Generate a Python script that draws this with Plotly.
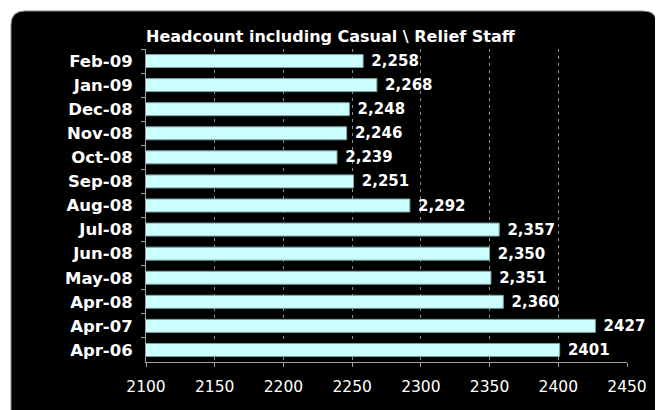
import plotly.graph_objects as go

# headcount per month, listed top to bottom as in the chart
months = ["Feb-09", "Jan-09", "Dec-08", "Nov-08", "Oct-08", "Sep-08", "Aug-08",
          "Jul-08", "Jun-08", "May-08", "Apr-08", "Apr-07", "Apr-06"]
headcount = [2258, 2268, 2248, 2246, 2239, 2251, 2292,
             2357, 2350, 2351, 2360, 2427, 2401]
value_labels = ["2,258", "2,268", "2,248", "2,246", "2,239", "2,251", "2,292",
                "2,357", "2,350", "2,351", "2,360", "2427", "2401"]
x_ticks = [2100, 2150, 2200, 2250, 2300, 2350, 2400, 2450]

# the page body has an 8px margin, so the figure is drawn 8px smaller
OFF = 8
FW, FH = 663 - OFF, 410 - OFF
L, R, T, B = 146 - OFF, 36, 49 - OFF, 48
PW, PH = FW - L - R, FH - T - B
FONT = "DejaVu Sans, Verdana, sans-serif"


def px(x):
    # page pixel -> paper coordinate
    return (x - OFF - L) / PW


def py(y):
    return (FH - B - (y - OFF)) / PH


# black rounded panel behind the chart
x0, x1, y0, y1, r = 11, 657, 11, 414, 14
frame = (f"M {px(x0)} {py(y1)} L {px(x0)} {py(y0 + r)} "
         f"Q {px(x0)} {py(y0)} {px(x0 + r)} {py(y0)} "
         f"L {px(x1 - r)} {py(y0)} "
         f"Q {px(x1)} {py(y0)} {px(x1)} {py(y0 + r)} "
         f"L {px(x1)} {py(y1)} Z")

fig = go.Figure()
fig.add_trace(go.Bar(
    y=months, x=headcount, orientation="h",
    marker=dict(color="#ccffff", line=dict(color="#7fa3a3", width=1)),
    text=value_labels, texttemplate=" %{text}",
    textposition="outside", constraintext="none", cliponaxis=False,
    textfont=dict(family=FONT, size=15, color="white", weight="bold"),
    hoverinfo="skip",
))

fig.update_layout(
    width=FW, height=FH,
    margin=dict(l=L, r=R, t=T, b=B),
    paper_bgcolor="white", plot_bgcolor="black",
    showlegend=False, bargap=0.46,
    title=dict(text="<b>Headcount including Casual \\ Relief Staff</b>",
               x=0, xref="paper", xanchor="left",
               y=(FH - (36 - OFF)) / FH, yref="container", yanchor="middle",
               font=dict(family=FONT, size=16, color="white")),
    shapes=[
        dict(type="path", path=frame, xref="paper", yref="paper",
             fillcolor="black", line=dict(color="#8a8a8a", width=1), layer="below"),
    ],
)

fig.update_xaxes(
    range=[2100, 2450], tickvals=x_ticks,
    showgrid=True, gridcolor="#8c8c8c", griddash="3px,4px", gridwidth=1,
    showline=True, linecolor="#a0a0a0", linewidth=1,
    ticks="outside", ticklen=4, tickcolor="#a0a0a0",
    ticklabelstandoff=6,
    tickfont=dict(family=FONT, size=15.5, color="white"),
    zeroline=False, fixedrange=True,
)
fig.update_yaxes(
    autorange="reversed", showgrid=False,
    showline=True, linecolor="#a0a0a0", linewidth=1,
    ticks="outside", ticklen=4, tickcolor="#a0a0a0", tickson="boundaries",
    ticklabelstandoff=9,
    tickfont=dict(family=FONT, size=16.5, color="white", weight="bold"),
    fixedrange=True,
)

fig.write_html("out.html")
